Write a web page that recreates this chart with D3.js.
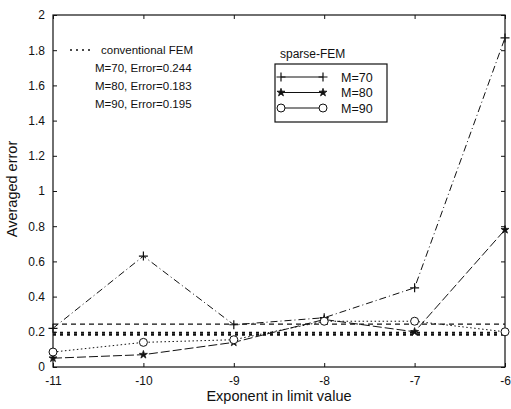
<!DOCTYPE html>
<html>
<head>
<meta charset="utf-8">
<script src="https://cdn.jsdelivr.net/npm/d3@7"></script>
<style>
  body { margin: 0; background: #fff; }
  svg { display: block; }
  text { font-family: "Liberation Sans", Arial, Helvetica, sans-serif; fill: #111; }
</style>
</head>
<body>
<svg id="chart" width="511" height="409"></svg>
<script>
// ---- data ----
const exponents = [-11, -10, -9, -8, -7, -6];
const m70 = [0.22, 0.63, 0.24, 0.28, 0.45, 1.87];
const m80 = [0.05, 0.07, 0.14, 0.27, 0.20, 0.78];
const m90 = [0.085, 0.14, 0.155, 0.26, 0.26, 0.20];
const conventional = [0.244, 0.183, 0.195];
const conventionalLabels = ["M=70, Error=0.244", "M=80, Error=0.183", "M=90, Error=0.195"];
const sparseLabels = ["M=70", "M=80", "M=90"];
const yTicks = [0, 0.2, 0.4, 0.6, 0.8, 1, 1.2, 1.4, 1.6, 1.8, 2];
const xTicks = [-11, -10, -9, -8, -7, -6];

// ---- layout ----
const svg = d3.select("#chart");
const L = 53, R = 505, T = 15, B = 367;
const x = d3.scaleLinear().domain([-11, -6]).range([L, R]);
const y = d3.scaleLinear().domain([0, 2]).range([B, T]);
const ink = "#111";

// frame
svg.append("rect").attr("x", L).attr("y", T).attr("width", R - L).attr("height", B - T)
  .attr("fill", "none").attr("stroke", ink).attr("stroke-width", 1.2);

// axes (ticks inward, MATLAB style)
svg.append("g").attr("transform", `translate(0,${B})`)
  .call(d3.axisBottom(x).tickValues(xTicks).tickSize(-4).tickPadding(9).tickFormat(d => String(d)));
svg.append("g").attr("transform", `translate(${L},0)`)
  .call(d3.axisLeft(y).tickValues(yTicks).tickSize(-4).tickPadding(8).tickFormat(d => String(+d.toFixed(1))));
svg.append("g").attr("transform", `translate(0,${T})`)
  .call(d3.axisTop(x).tickValues(xTicks).tickSize(-4).tickFormat(""));
svg.append("g").attr("transform", `translate(${R},0)`)
  .call(d3.axisRight(y).tickValues(yTicks).tickSize(-4).tickFormat(""));
svg.selectAll(".domain").remove();
svg.selectAll(".tick line").attr("stroke", ink).attr("stroke-width", 1);
svg.selectAll(".tick text").attr("font-size", 12).attr("fill", ink)
  .style("font-family", '"Liberation Sans", Arial, sans-serif');

// axis labels
svg.append("text").attr("x", (L + R) / 2).attr("y", 401).attr("text-anchor", "middle")
  .attr("font-size", 14.5).text("Exponent in limit value");
svg.append("text").attr("transform", `translate(17,189) rotate(-90)`)
  .attr("text-anchor", "middle").attr("font-size", 14.5).text("Averaged error");

// conventional FEM horizontal dotted lines
const convG = svg.append("g");
conventional.forEach((v, i) => {
  convG.append("line").attr("x1", x(-11)).attr("x2", x(-6)).attr("y1", y(v)).attr("y2", y(v))
    .attr("stroke", ink).attr("stroke-width", i === 0 ? 1.3 : 2)
    .attr("stroke-dasharray", i === 0 ? "5,4" : "3,4");
});

// sparse-FEM series
const series = [
  { name: "M=70", values: m70, dash: "7,3,1,3", marker: "plus" },
  { name: "M=80", values: m80, dash: "9,3", marker: "star" },
  { name: "M=90", values: m90, dash: "1.5,2.5", marker: "circle" }
];
const line = d3.line().x((d, i) => x(exponents[i])).y(d => y(d));

function drawMarker(g, type, cx, cy) {
  if (type === "plus") {
    g.append("path").attr("d", `M${cx - 4.5},${cy}H${cx + 4.5}M${cx},${cy - 4.5}V${cy + 4.5}`)
      .attr("stroke", ink).attr("stroke-width", 1.2).attr("fill", "none");
  } else if (type === "star") {
    g.append("path").attr("d", d3.symbol().type(d3.symbolStar).size(20)())
      .attr("transform", `translate(${cx},${cy})`).attr("fill", ink).attr("stroke", ink).attr("stroke-width", 0.8);
  } else {
    g.append("circle").attr("cx", cx).attr("cy", cy).attr("r", 4)
      .attr("fill", "#fff").attr("stroke", ink).attr("stroke-width", 1);
  }
}

series.forEach(s => {
  const g = svg.append("g");
  g.append("path").datum(s.values).attr("d", line).attr("fill", "none")
    .attr("stroke", ink).attr("stroke-width", 1).attr("stroke-dasharray", s.dash);
  s.values.forEach((v, i) => drawMarker(g, s.marker, x(exponents[i]), y(v)));
});

// conventional legend (no box)
svg.append("line").attr("x1", 70).attr("x2", 91).attr("y1", 50).attr("y2", 50)
  .attr("stroke", ink).attr("stroke-width", 1.5).attr("stroke-dasharray", "2,4");
svg.append("text").attr("x", 101).attr("y", 54).attr("font-size", 11.5).text("conventional FEM");
conventionalLabels.forEach((t, i) => {
  svg.append("text").attr("x", 95).attr("y", 72 + i * 18).attr("font-size", 11.5).text(t);
});

// sparse-FEM legend
svg.append("text").attr("x", 280).attr("y", 58).attr("font-size", 12).text("sparse-FEM");
svg.append("rect").attr("x", 275).attr("y", 64).attr("width", 112).attr("height", 58)
  .attr("fill", "#fff").attr("stroke", ink).attr("stroke-width", 1.2);
series.forEach((s, i) => {
  const yy = 77 + i * 15.5;
  const g = svg.append("g");
  g.append("line").attr("x1", 281).attr("x2", 323).attr("y1", yy).attr("y2", yy)
    .attr("stroke", ink).attr("stroke-width", 1);
  drawMarker(g, s.marker, 281, yy);
  drawMarker(g, s.marker, 323, yy);
  g.append("text").attr("x", 341).attr("y", yy + 4.5).attr("font-size", 12.5).text(sparseLabels[i]);
});
</script>
</body>
</html>
